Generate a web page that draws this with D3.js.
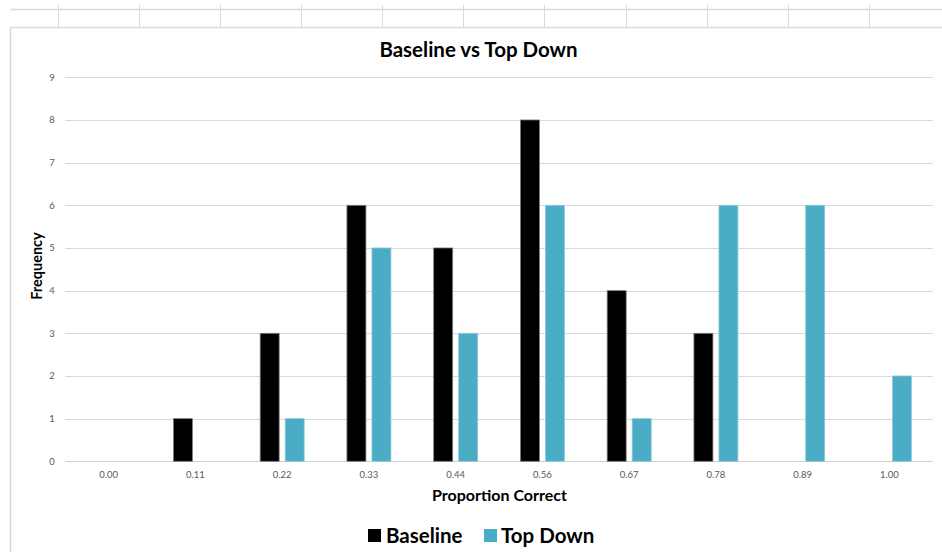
<!DOCTYPE html>
<html>
<head>
<meta charset="utf-8">
<script src="https://cdn.jsdelivr.net/npm/d3@7"></script>
<style>
  html, body { margin: 0; padding: 0; background: #fff; }
  svg { display: block; }
</style>
</head>
<body>
<svg id="chart" width="942" height="552"></svg>
<script>
const categories = ["0.00", "0.11", "0.22", "0.33", "0.44", "0.56", "0.67", "0.78", "0.89", "1.00"];
const baseline = [0, 1, 3, 6, 5, 8, 4, 3, 0, 0];
const topDown  = [0, 0, 1, 5, 3, 6, 1, 6, 6, 2];
const seriesNames = ["Baseline", "Top Down"];
const yTicks = [0, 1, 2, 3, 4, 5, 6, 7, 8, 9];
const colors = ["#000000", "#4BACC6"];

const svg = d3.select("#chart");
const FONT = "Lato, 'Open Sans', sans-serif";

// spreadsheet background grid (behind chart)
const sheetCols = [58, 139, 220, 301, 382, 463, 544, 626, 707, 788, 869];
svg.append("line").attr("x1", 10).attr("x2", 942).attr("y1", 9.5).attr("y2", 9.5)
  .attr("stroke", "#dadada").attr("stroke-width", 1.5);
svg.selectAll("line.sheetcol").data(sheetCols).join("line")
  .attr("class", "sheetcol")
  .attr("x1", d => d + 0.5).attr("x2", d => d + 0.5)
  .attr("y1", 5).attr("y2", 28)
  .attr("stroke", "#dadada").attr("stroke-width", 1);

// chart area border
svg.append("rect").attr("x", 10.5).attr("y", 27.5).attr("width", 940).attr("height", 540)
  .attr("fill", "#fff").attr("stroke", "#d9d9d9").attr("stroke-width", 1.5);

const plot = { left: 65.3, right: 932.8, top: 77.3, bottom: 461.3 };

const x = d3.scaleBand().domain(categories).range([plot.left, plot.right]).paddingInner(0).paddingOuter(0);
const y = d3.scaleLinear().domain([0, 9]).range([plot.bottom, plot.top]);

// gridlines
svg.append("g").selectAll("line").data(yTicks).join("line")
  .attr("x1", plot.left).attr("x2", plot.right)
  .attr("y1", d => Math.round(y(d)) + 0.5).attr("y2", d => Math.round(y(d)) + 0.5)
  .attr("stroke", d => d === 0 ? "#d0d0d0" : "#d9d9d9").attr("stroke-width", 1);

// y tick labels
svg.append("g").selectAll("text").data(yTicks).join("text")
  .attr("x", 52).attr("y", d => y(d))
  .attr("dy", "0.35em").attr("text-anchor", "middle")
  .attr("font-family", FONT).attr("font-size", 9.5).attr("fill", "#595959")
  .text(d => d);

// x tick labels
svg.append("g").selectAll("text").data(categories).join("text")
  .attr("x", d => x(d) + x.bandwidth() / 2).attr("y", 475)
  .attr("dy", "0.35em").attr("text-anchor", "middle")
  .attr("font-family", FONT).attr("font-size", 9.5).attr("fill", "#595959")
  .text(d => d);

// bars
const barW = 19, gap = 6;
const series = [baseline, topDown];
const offsets = [-(barW + gap / 2), gap / 2];
series.forEach((vals, si) => {
  svg.append("g").selectAll("rect").data(vals.map((v, i) => ({ v, c: categories[i] })).filter(d => d.v > 0))
    .join("rect")
    .attr("x", d => x(d.c) + x.bandwidth() / 2 + offsets[si])
    .attr("y", d => y(d.v))
    .attr("width", barW)
    .attr("height", d => y(0) - y(d.v))
    .attr("fill", colors[si])
    .attr("stroke", si === 0 ? "#7f7f7f" : "#8fcbdb")
    .attr("stroke-width", 0.8);
});

// title
svg.append("text").attr("x", 478.5).attr("y", 50).attr("dy", "0.35em")
  .attr("text-anchor", "middle").attr("font-family", FONT).attr("font-weight", "bold")
  .attr("font-size", 20.5).attr("fill", "#000").text("Baseline vs Top Down");

// axis titles
svg.append("text").attr("x", 499.5).attr("y", 495).attr("dy", "0.35em")
  .attr("text-anchor", "middle").attr("font-family", FONT).attr("font-weight", "bold")
  .attr("font-size", 16).attr("fill", "#000").text("Proportion Correct");

svg.append("text").attr("transform", "translate(36.5,266) rotate(-90)").attr("dy", "0.35em")
  .attr("text-anchor", "middle").attr("font-family", FONT).attr("font-weight", "bold")
  .attr("font-size", 14.5).attr("fill", "#000").text("Frequency");

// legend
const legend = [
  { name: seriesNames[0], color: colors[0], sx: 368, tx: 386 },
  { name: seriesNames[1], color: colors[1], sx: 484, tx: 501 }
];
const lg = svg.append("g");
lg.selectAll("rect").data(legend).join("rect")
  .attr("x", d => d.sx).attr("y", 529).attr("width", 13).attr("height", 13)
  .attr("fill", d => d.color);
lg.selectAll("text").data(legend).join("text")
  .attr("x", d => d.tx).attr("y", 535.5).attr("dy", "0.35em")
  .attr("font-family", FONT).attr("font-weight", "bold").attr("font-size", 20.5)
  .attr("fill", "#000").text(d => d.name);
</script>
</body>
</html>
